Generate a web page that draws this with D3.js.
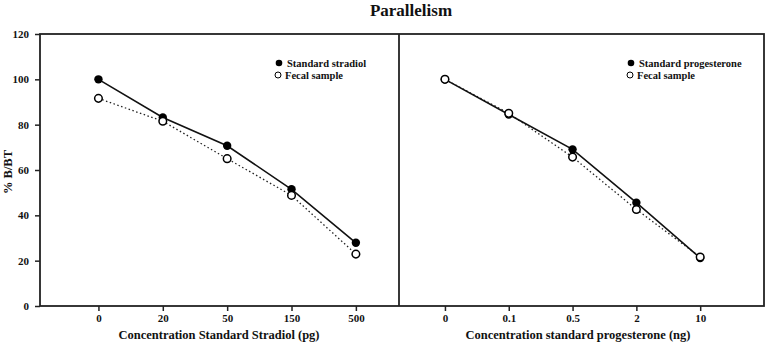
<!DOCTYPE html>
<html>
<head>
<meta charset="utf-8">
<script src="https://cdn.jsdelivr.net/npm/d3@7"></script>
<style>
  body { margin: 0; background: #fff; }
  text { font-family: "Liberation Serif", "DejaVu Serif", serif; font-weight: bold; fill: #111; }
</style>
</head>
<body>
<svg id="chart" width="768" height="347"></svg>
<script>
// left panel: estradiol
const estrTicks = ["0", "20", "50", "150", "500"];
const estrStandard = [100, 83.2, 70.7, 51.5, 27.9];
const estrFecal = [91.6, 81.5, 65.0, 48.8, 22.9];

// right panel: progesterone
const progTicks = ["0", "0.1", "0.5", "2", "10"];
const progStandard = [100, 84.5, 69.1, 45.6, 21.2];
const progFecal = [100, 85.0, 65.7, 42.6, 21.6];

const yTicks = [0, 20, 40, 60, 80, 100, 120];

const svg = d3.select("#chart");
const plotTop = 34, plotBottom = 306;
const stroke = "#222";

const y = d3.scaleLinear().domain([0, 120]).range([plotBottom, plotTop]);

svg.append("text")
    .attr("x", 411).attr("y", 16)
    .attr("text-anchor", "middle")
    .attr("font-size", 17)
    .text("Parallelism");

// y axis
const yAxis = svg.append("g")
    .attr("transform", "translate(40,0)")
    .call(d3.axisLeft(y).tickValues(yTicks).tickSize(5).tickPadding(6));
yAxis.select(".domain").remove();
yAxis.selectAll("line").attr("stroke", stroke).attr("stroke-width", 1.5);
yAxis.selectAll("text").attr("font-size", 11).attr("font-family", "Liberation Serif").attr("font-weight", "bold").attr("fill", "#111");

svg.append("text")
    .attr("transform", `translate(12,172) rotate(-90)`)
    .attr("text-anchor", "middle")
    .attr("font-size", 12.5)
    .text("% B/BT");

// frame
svg.append("rect")
    .attr("x", 40).attr("y", plotTop)
    .attr("width", 764 - 40).attr("height", plotBottom - plotTop)
    .attr("fill", "none").attr("stroke", stroke).attr("stroke-width", 1.8);
svg.append("line")
    .attr("x1", 399).attr("x2", 399).attr("y1", plotTop).attr("y2", plotBottom)
    .attr("stroke", stroke).attr("stroke-width", 1.8);

function drawPanel(opt) {
    const x = d3.scaleLinear().domain(opt.domain).range(opt.range);
    const idx = d3.range(opt.ticks.length);

    const xAxis = svg.append("g")
        .attr("transform", `translate(0,${plotBottom})`)
        .call(d3.axisBottom(x).tickValues(idx).tickFormat(i => opt.ticks[i]).tickSize(5).tickPadding(3));
    xAxis.select(".domain").remove();
    xAxis.selectAll("line").attr("stroke", stroke).attr("stroke-width", 1.5);
    xAxis.selectAll("text").attr("font-size", 11).attr("font-family", "Liberation Serif").attr("font-weight", "bold").attr("fill", "#111");

    svg.append("text")
        .attr("x", opt.titleX).attr("y", 339)
        .attr("text-anchor", "middle")
        .attr("font-size", 12.5)
        .text(opt.title);

    const line = d3.line().x((d, i) => x(i)).y(d => y(d));

    svg.append("path")
        .datum(opt.fecal)
        .attr("d", line)
        .attr("fill", "none")
        .attr("stroke", "#222")
        .attr("stroke-width", 1.3)
        .attr("stroke-dasharray", "1.5,2.5");

    svg.append("path")
        .datum(opt.standard)
        .attr("d", line)
        .attr("fill", "none")
        .attr("stroke", "#111")
        .attr("stroke-width", 1.6);

    svg.append("g").selectAll("circle")
        .data(opt.standard)
        .join("circle")
        .attr("cx", (d, i) => x(i))
        .attr("cy", d => y(d))
        .attr("r", 4.2)
        .attr("fill", "#000");

    svg.append("g").selectAll("circle")
        .data(opt.fecal)
        .join("circle")
        .attr("cx", (d, i) => x(i))
        .attr("cy", d => y(d))
        .attr("r", 3.8)
        .attr("fill", "#fff")
        .attr("stroke", "#000")
        .attr("stroke-width", 1.5);

    // legend
    const lg = svg.append("g").attr("transform", `translate(${opt.legendX},63)`);
    lg.append("circle").attr("cx", 0).attr("cy", 0).attr("r", 3.3).attr("fill", "#000");
    lg.append("text").attr("x", 8).attr("y", 3.5).attr("font-size", 10.5).text(opt.legendLabel);
    lg.append("circle").attr("cx", -1).attr("cy", 12).attr("r", 3).attr("fill", "#fff").attr("stroke", "#000").attr("stroke-width", 1);
    lg.append("text").attr("x", 6).attr("y", 15.5).attr("font-size", 10.5).text("Fecal sample");
}

drawPanel({
    ticks: estrTicks, standard: estrStandard, fecal: estrFecal,
    domain: [-0.908, 4.67], range: [40, 399],
    title: "Concentration Standard Stradiol (pg)", titleX: 219,
    legendX: 279, legendLabel: "Standard stradiol"
});

drawPanel({
    ticks: progTicks, standard: progStandard, fecal: progFecal,
    domain: [-0.72, 5.0], range: [399, 764],
    title: "Concentration standard progesterone (ng)", titleX: 578,
    legendX: 631, legendLabel: "Standard progesterone"
});
</script>
</body>
</html>
